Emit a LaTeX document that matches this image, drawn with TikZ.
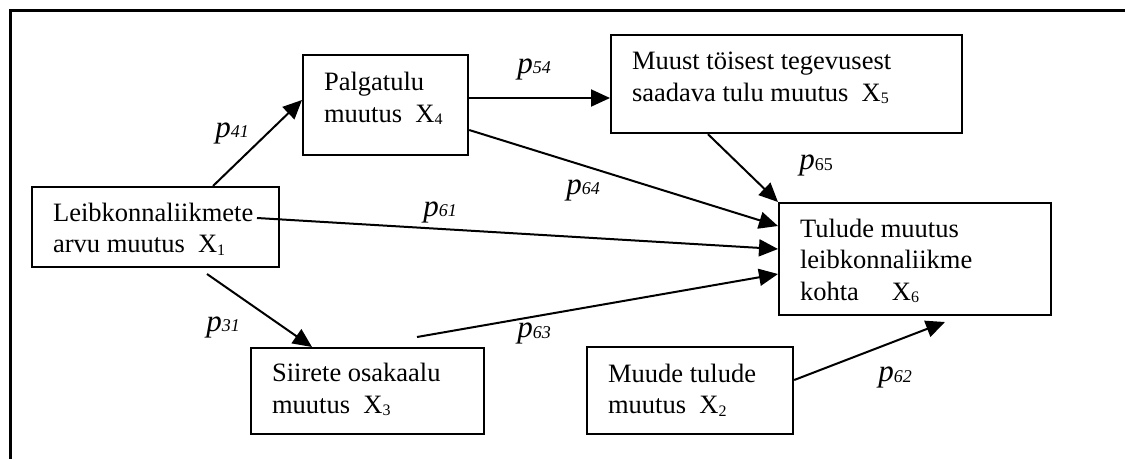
\documentclass[tikz,border=0pt]{standalone}
\usepackage{fontspec}
\setmainfont{Liberation Serif}
\usetikzlibrary{arrows.meta,calc}
\newcommand\mysub[1]{\raisebox{-2.5pt}{\fontsize{16}{16}\selectfont #1}}
\newcommand\plab[1]{\textit{p}\raisebox{-0.5pt}{\fontsize{18}{18}\selectfont #1}}
\newcommand\bxt[2]{\makebox[#1][l]{\hspace{21pt}\parbox[t]{\dimexpr#1-21pt\relax}{\raggedright #2}}}
\tikzset{
  box/.style={draw, line width=2.2pt, inner sep=0pt, anchor=north west,
    font=\fontsize{26.5}{31.5}\selectfont},
  lab/.style={inner sep=0pt, font=\fontsize{31}{31}\selectfont},
  conn/.style={line width=2pt, -{Triangle[length=19pt,width=17pt]}},
  frame/.style={line width=2.8pt}
}
\begin{document}
\begin{tikzpicture}[x=1pt,y=-1pt]
\useasboundingbox (0,0) rectangle (1125,459);
\draw[frame] (1125,10.5) -- (10.5,10.5) -- (10.5,459);

\node[box, text height=34pt, text depth=46pt] (x1) at (31,186)
  {\bxt{247pt}{Leibkonnaliikmete\\arvu muutus~~X\mysub{1}}};
\node[box, text height=35.5pt, text depth=64.5pt] (x4) at (302,54)
  {\bxt{165pt}{Palgatulu\\muutus~~X\mysub{4}}};
\node[box, text height=34.5pt, text depth=63.5pt] (x5) at (610,34)
  {\bxt{351pt}{Muust töisest tegevusest\\saadava tulu muutus~~X\mysub{5}}};
\node[box, text height=34pt, text depth=78pt] (x6) at (778,202)
  {\bxt{272pt}{Tulude muutus\\leibkonnaliikme\\kohta\hspace{33pt}X\mysub{6}}};
\node[box, text height=33.5pt, text depth=52.5pt] (x3) at (250,347)
  {\bxt{233pt}{Siirete osakaalu\\muutus~~X\mysub{3}}};
\node[box, text height=35pt, text depth=52pt] (x2) at (586,346)
  {\bxt{206pt}{Muude tulude\\muutus~~X\mysub{2}}};

\coordinate (s61) at (257,218);
\coordinate (s63) at (417,337);
\coordinate (s31) at (207,274);
\coordinate (e62) at (945,322);

\draw[conn] ($(x1.north west)+(182,0)$) -- ($(x4.north west)+(0,46)$);
\draw[conn] ($(x4.north east)+(0,44)$) -- ($(x5.north west)+(0,64)$);
\draw[conn] ($(x4.north east)+(0,76)$) -- ($(x6.north west)+(0,24)$);
\draw[conn] ($(x5.south west)+(98,0)$) -- (x6.north west);
\draw[conn] (s61) -- ($(x6.north west)+(0,47)$);
\draw[conn] (s63) -- ($(x6.north west)+(0,72)$);
\draw[conn] (s31) -- ($(x3.north west)+(62,0)$);
\draw[conn] ($(x2.north east)+(0,34)$) -- (e62);

\node[lab] (l41) at (232,133) {\plab{\itshape 41}};
\node[lab] (l54) at (534,69) {\plab{\itshape 54}};
\node[lab] (l64) at (583,190) {\plab{\itshape 64}};
\node[lab] (l61) at (440,212) {\plab{\itshape 61}};
\node[lab] (l65) at (816,165.5) {\plab{65}};
\node[lab] (l31) at (223,327) {\plab{\itshape 31}};
\node[lab] (l63) at (534,333.5) {\plab{\itshape 63}};
\node[lab] (l62) at (895,377.5) {\plab{\itshape 62}};
\end{tikzpicture}
\end{document}
